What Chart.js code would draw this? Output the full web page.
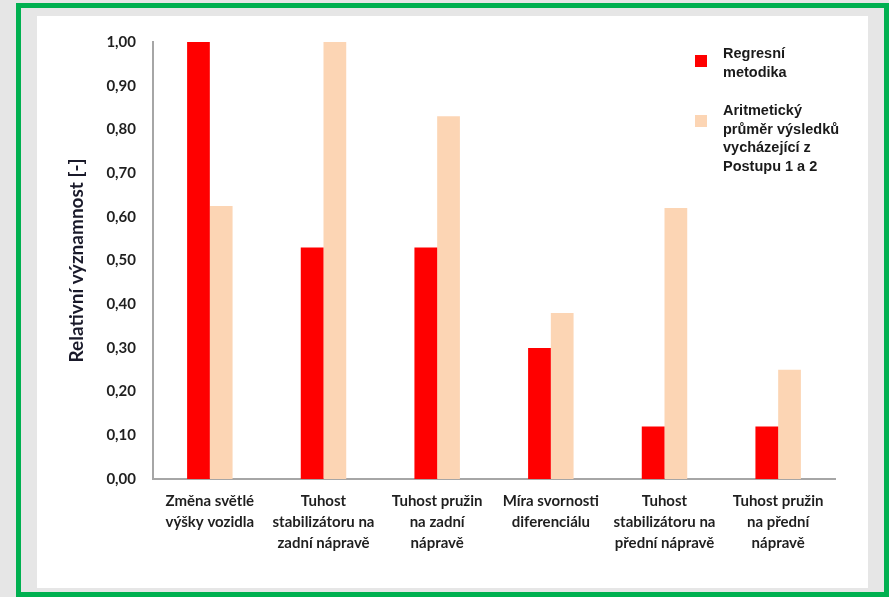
<!DOCTYPE html>
<html>
<head>
<meta charset="utf-8">
<script src="https://cdn.jsdelivr.net/npm/chart.js@4"></script>
<style>
  body { margin: 0; background: #e6e6e6; width: 889px; height: 597px; overflow: hidden; position: relative; }
  .frame { position: absolute; left: 16px; top: 3px; width: 863px; height: 584px; border: 5px solid #00b050; background: #e6e6e6; }
  .panel { position: absolute; left: 37px; top: 16px; width: 831px; height: 572px; background: #fff; }
</style>
</head>
<body>
<div class="frame"></div>
<div class="panel"><canvas id="vyznamnostChart" width="831" height="572"></canvas></div>
<script>
const kategorie = [
    ["Změna světlé", "výšky vozidla"],
    ["Tuhost", "stabilizátoru na", "zadní nápravě"],
    ["Tuhost pružin", "na zadní", "nápravě"],
    ["Míra svornosti", "diferenciálu"],
    ["Tuhost", "stabilizátoru na", "přední nápravě"],
    ["Tuhost pružin", "na přední", "nápravě"]
];
const regresni = [1.00, 0.53, 0.53, 0.30, 0.12, 0.12];
const prumer = [0.625, 1.00, 0.83, 0.38, 0.62, 0.25];
const legendaRegresni = ["Regresní", "metodika"];
const legendaPrumer = ["Aritmetický", "průměr výsledků", "vycházející z", "Postupu 1 a 2"];

// vlastní legenda vpravo nahoře (víceřádkové popisky)
const legendaPlugin = {
    id: 'legendaVpravo',
    afterDraw(chart) {
        const c = chart.ctx;
        const radek = 18.5;
        const polozky = [{ y: 38, ctverec: 39 }, { y: 95, ctverec: 99 }];
        c.save();
        c.font = 'bold 14.5px "Liberation Sans", Arial, sans-serif';
        c.textBaseline = 'middle';
        chart.data.datasets.forEach((ds, i) => {
            const p = polozky[i];
            c.fillStyle = ds.backgroundColor;
            c.fillRect(658, p.ctverec, 12, 12);
            c.fillStyle = '#1a1a1a';
            ds.legendLines.forEach((t, k) => c.fillText(t, 686, p.y + k * radek));
        });
        c.restore();
    }
};

new Chart(document.getElementById('vyznamnostChart'), {
    type: 'bar',
    data: {
        labels: kategorie,
        datasets: [{
            label: legendaRegresni.join(' '),
            legendLines: legendaRegresni,
            data: regresni,
            backgroundColor: '#ff0000',
            categoryPercentage: 0.4,
            barPercentage: 1
        }, {
            label: legendaPrumer.join(' '),
            legendLines: legendaPrumer,
            data: prumer,
            backgroundColor: '#fcd5b4',
            categoryPercentage: 0.4,
            barPercentage: 1
        }]
    },
    options: {
        responsive: false,
        animation: false,
        layout: { padding: { top: 24, right: 33, left: 0, bottom: 0 } },
        plugins: { legend: { display: false }, tooltip: { enabled: false } },
        scales: {
            x: {
                grid: { display: false, drawTicks: false },
                border: { display: true, color: '#a6a6a6', width: 2 },
                ticks: {
                    color: '#1f1f1f',
                    padding: 12,
                    maxRotation: 0,
                    autoSkip: false,
                    font: { family: 'Lato, "Open Sans", sans-serif', weight: 'bold', size: 15, lineHeight: 1.4 }
                },
                afterFit: s => { s.height = 109; }
            },
            y: {
                min: 0,
                max: 1,
                grid: { display: false, drawTicks: false },
                border: { display: true, color: '#a6a6a6', width: 2 },
                ticks: {
                    stepSize: 0.1,
                    color: '#1f1f1f',
                    padding: 17,
                    font: { family: 'Lato, "Open Sans", sans-serif', weight: 'bold', size: 15 },
                    callback: v => v.toFixed(2).replace('.', ',')
                },
                title: {
                    display: true,
                    text: 'Relativní významnost [-]',
                    color: '#1a1a2a',
                    padding: { top: 28, bottom: 0 },
                    font: { family: 'Lato, "Open Sans", sans-serif', weight: 'bold', size: 19 }
                },
                afterFit: s => { s.width = 116; }
            }
        }
    },
    plugins: [legendaPlugin]
});
</script>
</body>
</html>
